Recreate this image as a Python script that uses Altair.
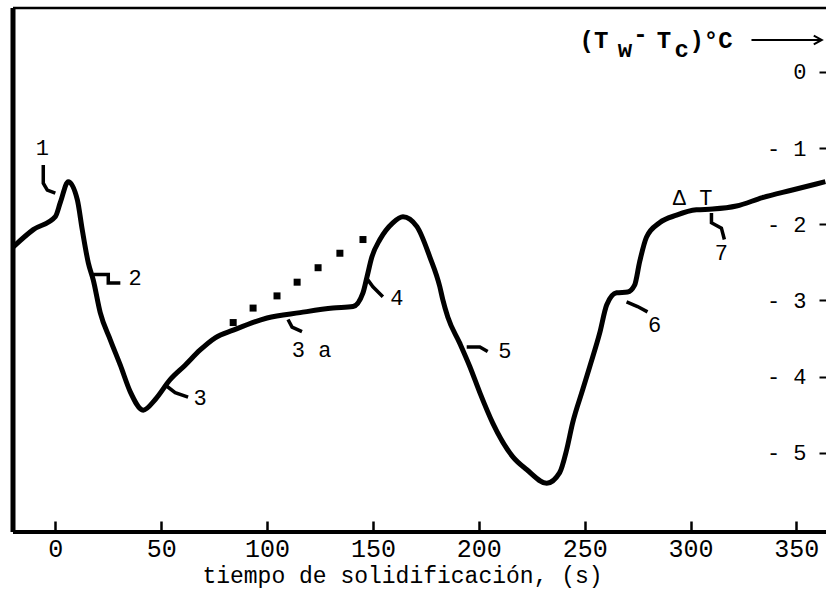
import altair as alt
import pandas as pd

# ---- data ----
time_s = [-20, -10.4, 0, 2.4, 6.1, 10.4, 12.7, 15.6, 17.9, 21.2, 26, 30.7, 35.4, 41.5, 47.2,
          54.2, 61.3, 68.4, 75.5, 84.0, 100.0, 115.6, 131.1, 140.6, 145.3, 147.2, 149.5,
          153.3, 159.4, 164.2, 170.8, 176.9, 181.6, 183.0, 185.4, 191.0, 195.8, 200.5, 206.6,
          216.0, 222.6, 232.1, 238.2, 241.5, 244.3, 249.1, 252.4, 257.1, 260.4, 265.1, 270.3,
          273.6, 276.0, 279.2, 285.4, 293.4, 302.8, 310.4, 321.7, 334.0, 348.1, 363.7]
delta_T = [-2.30, -2.07, -1.90, -1.71, -1.44, -1.68, -2.07, -2.51, -2.73, -3.16, -3.52, -3.85,
           -4.20, -4.44, -4.30, -4.04, -3.85, -3.65, -3.49, -3.39, -3.23, -3.16, -3.10, -3.08,
           -2.90, -2.69, -2.43, -2.20, -1.98, -1.90, -2.03, -2.43, -2.82, -2.99, -3.22, -3.56,
           -3.87, -4.21, -4.61, -5.05, -5.22, -5.40, -5.26, -4.96, -4.61, -4.17, -3.87, -3.43,
           -3.06, -2.90, -2.89, -2.80, -2.49, -2.17, -1.98, -1.88, -1.81, -1.80, -1.76, -1.65,
           -1.55, -1.44]

dots_t = [84.0, 93.4, 104.7, 114.2, 124.1, 134.4, 145.3]
dots_v = [-3.29, -3.10, -2.94, -2.76, -2.57, -2.38, -2.20]

label_text = ["1", "2", "3", "3 a", "4", "5", "6", "7", "Δ T"]
label_t = [-6.1, 37.7, 68.4, 121.0, 161.3, 212.3, 283.0, 314.6, 301.0]
label_v = [-1.00, -2.70, -4.28, -3.65, -2.97, -3.66, -3.32, -2.38, -1.65]

leader_id = ["1"] * 4 + ["2"] * 4 + ["3"] * 3 + ["3a"] * 3 + ["4"] * 3 + ["5"] * 3 + ["6"] * 3 + ["7"] * 4
leader_t = [-5.7, -5.7, -3.8, 0.0,
            17.9, 25.0, 25.0, 30.7,
            51.9, 56.6, 62.7,
            109.9, 111.8, 116.5,
            147.6, 150.0, 154.7,
            194.3, 200.5, 204.2,
            269.8, 275.0, 279.7,
            309.9, 309.9, 314.6, 316.0]
leader_v = [-1.22, -1.46, -1.55, -1.59,
            -2.66, -2.66, -2.77, -2.77,
            -4.11, -4.21, -4.27,
            -3.25, -3.35, -3.41,
            -2.73, -2.82, -2.95,
            -3.61, -3.61, -3.67,
            -3.02, -3.08, -3.15,
            -1.85, -1.98, -2.05, -2.20]

x_ticks = [0, 50, 100, 150, 200, 250, 300, 350]
y_ticks = [0, -1, -2, -3, -4, -5]

# y-axis title pieces (text, time position, value position)
ytitle_text = ["(T", "w", "-", "T", "c", ")°C"]
ytitle_t = [247.6, 265.6, 273.0, 284.0, 292.5, 299.5]
ytitle_v = [0.315, 0.197, 0.39, 0.315, 0.197, 0.315]
arrow_t = [328.8, 362.0]
arrow_v = [0.42, 0.42]

# ---- chart ----
W, H = 813, 524
FONT = "Liberation Mono"

xs = alt.Scale(domain=[-20, 364], nice=False, zero=False)
ys = alt.Scale(domain=[-6.04, 0.84], nice=False, zero=False)

curve_df = pd.DataFrame({"t": time_s, "v": delta_T, "o": range(len(time_s))})
dots_df = pd.DataFrame({"t": dots_t, "v": dots_v})
labels_df = pd.DataFrame({"txt": label_text, "t": label_t, "v": label_v})
leader_df = pd.DataFrame({"id": leader_id, "t": leader_t, "v": leader_v,
                          "o": range(len(leader_t))})
ytitle_df = pd.DataFrame({"txt": ytitle_text, "t": ytitle_t, "v": ytitle_v})
arrow_df = pd.DataFrame({"t": [arrow_t[0]], "t2": [arrow_t[1]], "v": [arrow_v[0]]})
head_df = pd.DataFrame({"t": [arrow_t[1]], "v": [arrow_v[1]]})

x_axis = alt.Axis(values=x_ticks, orient="bottom", offset=-11, tickSize=11, tickWidth=2.5,
                  tickColor="black", domain=False, grid=False, labelFont=FONT,
                  labelFontSize=25, labelColor="black", labelPadding=4,
                  title="tiempo de solidificación, (s)", titleFont=FONT, titleFontSize=23,
                  titleFontWeight="normal", titleColor="black", titlePadding=3, titleX=389)
y_axis = alt.Axis(values=y_ticks, orient="left", offset=-W, tickSize=7, tickWidth=2,
                  tickColor="black", domain=False, grid=False, labelFont=FONT,
                  labelFontSize=22, labelColor="black", labelPadding=13,
                  labelExpr="datum.value == 0 ? '0' : '- ' + format(-datum.value, 'd')",
                  title=None)

curve = alt.Chart(curve_df).mark_line(color="black", strokeWidth=5, clip=True,
                                      interpolate="monotone",
                                      strokeJoin="round").encode(
    x=alt.X("t:Q", scale=xs, axis=x_axis),
    y=alt.Y("v:Q", scale=ys, axis=y_axis),
    order="o:Q",
)

dots = alt.Chart(dots_df).mark_square(color="black", size=49, opacity=1).encode(
    x=alt.X("t:Q", scale=xs), y=alt.Y("v:Q", scale=ys))

leaders = alt.Chart(leader_df).mark_line(color="black", strokeWidth=3.5).encode(
    x=alt.X("t:Q", scale=xs), y=alt.Y("v:Q", scale=ys), detail="id:N", order="o:Q")

labels = alt.Chart(labels_df).mark_text(font=FONT, fontSize=22, color="black",
                                        align="center", baseline="middle").encode(
    x=alt.X("t:Q", scale=xs), y=alt.Y("v:Q", scale=ys), text="txt:N")

ytitle = alt.Chart(ytitle_df).mark_text(font=FONT, fontSize=24, fontWeight="bold",
                                        color="black", align="left",
                                        baseline="alphabetic").encode(
    x=alt.X("t:Q", scale=xs), y=alt.Y("v:Q", scale=ys), text="txt:N")

arrow = alt.Chart(arrow_df).mark_rule(color="black", strokeWidth=2).encode(
    x=alt.X("t:Q", scale=xs), x2="t2:Q", y=alt.Y("v:Q", scale=ys))

head = alt.Chart(head_df).mark_point(shape="M-1,-0.55L0,0L-1,0.55", filled=False,
                                     color="black", strokeWidth=2, size=256, opacity=1).encode(
    x=alt.X("t:Q", scale=xs), y=alt.Y("v:Q", scale=ys))

frame_df = pd.DataFrame({"a": [0]})
top_rule = alt.Chart(frame_df).mark_rule(color="black", strokeWidth=2.5).encode(
    x=alt.value(0), x2=alt.value(W), y=alt.value(0))
left_rule = alt.Chart(frame_df).mark_rule(color="black", strokeWidth=5).encode(
    x=alt.value(0), y=alt.value(0), y2=alt.value(H))
bottom_rule = alt.Chart(frame_df).mark_rule(color="black", strokeWidth=4).encode(
    x=alt.value(0), x2=alt.value(W), y=alt.value(H))

chart = alt.layer(
    curve, dots, leaders, labels, ytitle, arrow, head, top_rule, left_rule, bottom_rule
).properties(
    width=W, height=H,
    autosize=alt.AutoSizeParams(type="none"),
    padding={"left": 13, "top": 8, "right": 0, "bottom": 59},
    background="white",
).configure_view(stroke=None)

chart.save("out.html", embed_options={"renderer": "svg", "actions": False})
